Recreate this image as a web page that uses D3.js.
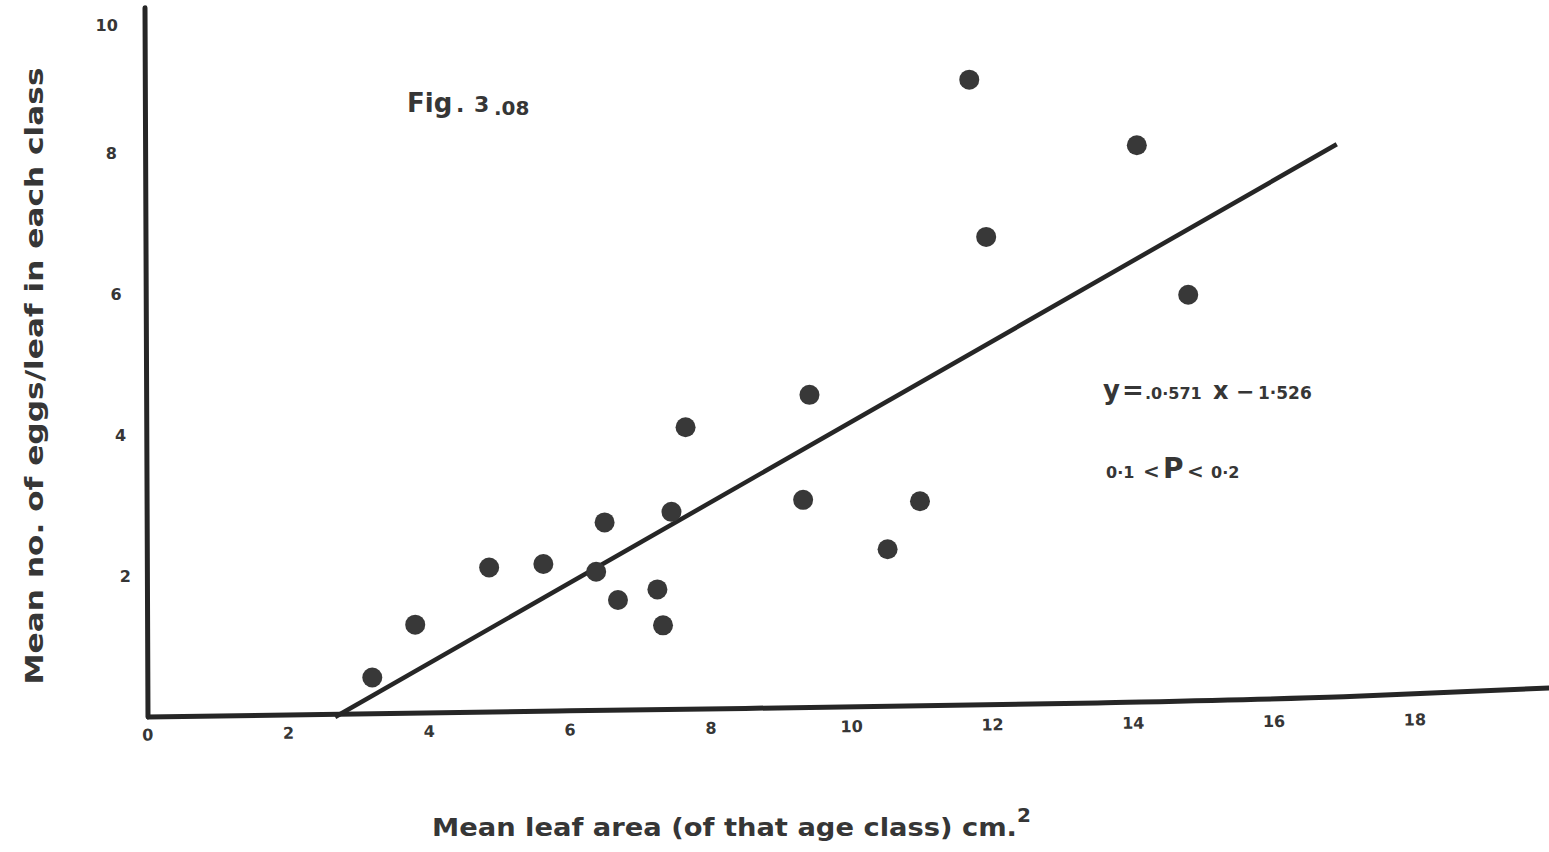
<!DOCTYPE html>
<html>
<head>
<meta charset="utf-8">
<script src="https://cdn.jsdelivr.net/npm/d3@7"></script>
<style>
  html, body { margin: 0; padding: 0; background: #ffffff; }
  svg { display: block; }
  text { font-family: "DejaVu Sans", "Liberation Sans", sans-serif; font-weight: bold; fill: #363636; }
</style>
</head>
<body>
<svg id="chart" width="1549" height="852"></svg>
<script>
// Mean leaf area (cm²) of each leaf age class
const leafArea = [3.20, 3.81, 4.86, 5.63, 6.38, 6.50, 6.69, 7.25, 7.33, 7.45, 7.65,
                  9.32, 9.41, 10.52, 10.98, 11.68, 11.92, 14.06, 14.79];
// Mean number of eggs per leaf in each class
const eggsPerLeaf = [0.56, 1.31, 2.12, 2.17, 2.06, 2.76, 1.66, 1.81, 1.30, 2.91, 4.11,
                     3.08, 4.57, 2.38, 3.06, 9.04, 6.81, 8.11, 5.99];

// Fitted regression  y = 0.571 x - 1.526
const slope = 0.571;
const intercept = -1.526;
const fitEndX = 16.9;

const xTicks = [0, 2, 4, 6, 8, 10, 12, 14, 16, 18];
const yTicks = [2, 4, 6, 8, 10];

const svg = d3.select("#chart");

const x = d3.scaleLinear().domain([0, 20]).range([147, 1555]);
const y = d3.scaleLinear().domain([0, 10]).range([717, 12]);

const ink = "#262626";

// ---- axes (hand-drawn look: slightly tilted) ----
const ox = x(0), oy = y(0);

// vertical axis
svg.append("line")
  .attr("x1", ox + 1).attr("y1", oy)
  .attr("x2", ox - 2).attr("y2", y(10.06))
  .attr("stroke", ink).attr("stroke-width", 5).attr("stroke-linecap", "round");

// horizontal axis, drifting upwards and bending up near its right end
const drift = px => (px - ox) * 0.0148;
const xBase = [0, 6, 13.5, 17, 20].map(v => [x(v), oy - drift(x(v)) - (v > 13.5 ? (v - 13.5) * (v - 13.5) * 0.2 : 0)]);
svg.append("path")
  .attr("d", d3.line().curve(d3.curveMonotoneX)(xBase))
  .attr("fill", "none")
  .attr("stroke", ink).attr("stroke-width", 5);

// x tick labels
const xAxis = d3.axisBottom(x).tickValues(xTicks).tickSize(0).tickPadding(12)
  .tickFormat(d3.format("d"));
const gx = svg.append("g")
  .attr("transform", `translate(0, ${oy}) rotate(-0.68, ${ox}, 0)`)
  .call(xAxis);
gx.select(".domain").remove();
gx.selectAll("text")
  .attr("font-family", "DejaVu Sans, sans-serif")
  .attr("font-weight", "bold")
  .attr("font-size", 16)
  .attr("fill", "#3a3a3a");

// y tick labels (the column drifts right towards the bottom)
const gy = svg.append("g");
gy.selectAll("text").data(yTicks).join("text")
  .attr("x", d => ox - 17 - (oy - y(d)) * 0.033)
  .attr("y", d => Math.max(y(d), 25))
  .attr("dy", "0.36em")
  .attr("text-anchor", "middle")
  .attr("font-size", 16)
  .attr("fill", "#3a3a3a")
  .text(d => d);

// ---- regression line ----
const fitStartX = -intercept / slope;
svg.append("line")
  .attr("x1", x(fitStartX)).attr("y1", y(slope * fitStartX + intercept))
  .attr("x2", x(fitEndX)).attr("y2", y(slope * fitEndX + intercept))
  .attr("stroke", ink).attr("stroke-width", 4.5);

// ---- points ----
svg.append("g").selectAll("circle")
  .data(leafArea.map((a, i) => [a, eggsPerLeaf[i]]))
  .join("circle")
  .attr("cx", d => x(d[0]))
  .attr("cy", d => y(d[1]))
  .attr("r", 10)
  .attr("fill", "#383838");

// ---- axis titles ----
svg.append("text")
  .attr("transform", "translate(43, 376) rotate(-90)")
  .attr("text-anchor", "middle")
  .attr("font-size", 24)
  .attr("textLength", 617)
  .attr("lengthAdjust", "spacingAndGlyphs")
  .text("Mean no. of eggs/leaf in each class");

const xt = svg.append("text").attr("y", 836).attr("font-size", 24);
xt.append("tspan").attr("x", 432)
  .attr("textLength", 585).attr("lengthAdjust", "spacingAndGlyphs")
  .text("Mean  leaf area (of that age class) cm.");
xt.append("tspan").attr("x", 1017).attr("y", 822).attr("font-size", 20).text("2");

// ---- figure label ----
const fig = svg.append("text").attr("y", 112);
fig.append("tspan").attr("x", 407).attr("font-size", 26).text("Fig");
fig.append("tspan").attr("x", 456).attr("font-size", 22).text(".");
fig.append("tspan").attr("x", 474).attr("font-size", 22).text("3");
fig.append("tspan").attr("x", 494).attr("y", 115).attr("font-size", 20).text(".08");

// ---- equation and significance ----
const eq = svg.append("text").attr("y", 399);
eq.append("tspan").attr("x", 1103).attr("font-size", 26).text("y");
eq.append("tspan").attr("x", 1122).attr("font-size", 26).text("=");
eq.append("tspan").attr("x", 1145).attr("font-size", 16).text(".0·571");
eq.append("tspan").attr("x", 1213).attr("font-size", 24).text("x");
eq.append("tspan").attr("x", 1236).attr("font-size", 22).text("−");
eq.append("tspan").attr("x", 1258).attr("font-size", 17).text("1·526");

const pv = svg.append("text").attr("y", 478);
pv.append("tspan").attr("x", 1106).attr("font-size", 16).text("0·1");
pv.append("tspan").attr("x", 1143).attr("font-size", 20).text("<");
pv.append("tspan").attr("x", 1163).attr("font-size", 28).text("P");
pv.append("tspan").attr("x", 1187).attr("font-size", 20).text("<");
pv.append("tspan").attr("x", 1211).attr("font-size", 16).text("0·2");
</script>
</body>
</html>
